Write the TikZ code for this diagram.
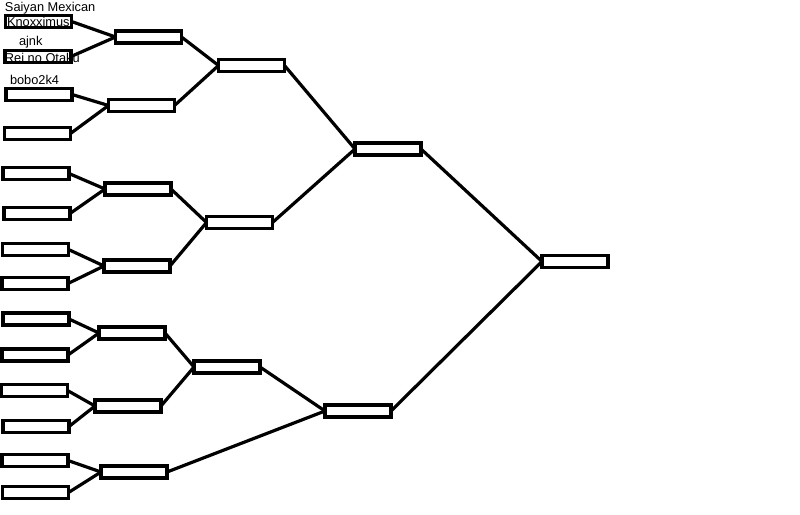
\documentclass[tikz,border=0pt]{standalone}
\usepackage{fontspec}
\setmainfont{Liberation Sans}
\begin{document}
\begin{tikzpicture}[x=1pt,y=-1pt,
  box/.style={draw=black,line width=3.8pt,minimum width=66pt,minimum height=12pt,inner sep=0pt,outer sep=0pt,rectangle},
  link/.style={draw=black,line width=3.2pt},
  lbl/.style={inner sep=0pt,outer sep=0pt,anchor=base west,font=\fontsize{12.8pt}{14pt}\selectfont}]
\fill[white] (0,0) rectangle (800,514);
\useasboundingbox (0,0) rectangle (800,514);
% labels
\node[lbl] (t1) at (5,11) {Saiyan Mexican};
\node[lbl] (t2) at (7,26) {Knoxximus};
\node[lbl] (t3) at (19,45) {ajnk};
\node[lbl] (t4) at (5,62) {Rei no Otaku};
\node[lbl] (t5) at (10,84) {bobo2k4};
% round 1
\node[box] (n1) at (38.5,21.5) {};
\node[box] (n2) at (38,56.5) {};
\node[box] (n3) at (39,94.5) {};
\node[box] (n4) at (37.5,133.5) {};
\node[box] (n5) at (36,173.5) {};
\node[box] (n6) at (37,213.5) {};
\node[box] (n7) at (35.5,249.5) {};
\node[box] (n8) at (35,283.5) {};
\node[box] (n9) at (36,319) {};
\node[box] (n10) at (35,355) {};
\node[box] (n11) at (34.5,390.5) {};
\node[box] (n12) at (36,426.5) {};
\node[box] (n13) at (35,460.5) {};
\node[box] (n14) at (35.5,492.5) {};
% round 2
\node[box] (a) at (148.5,37) {};
\node[box] (b) at (141.5,105.5) {};
\node[box] (c) at (138,189) {};
\node[box] (d) at (137,266) {};
\node[box] (e) at (132,333) {};
\node[box] (f) at (128,406) {};
\node[box] (g) at (134,472) {};
% round 3
\node[box] (h) at (251.5,65.5) {};
\node[box] (i) at (239.5,222.5) {};
\node[box] (j) at (227,367) {};
% round 4
\node[box] (k) at (388,149) {};
\node[box] (l) at (358,411) {};
% final
\node[box] (m) at (575,261.5) {};
% connectors
\draw[link] (n1.east) -- (a.west);
\draw[link] (n2.east) -- (a.west);
\draw[link] (n3.east) -- (b.west);
\draw[link] (n4.east) -- (b.west);
\draw[link] (n5.east) -- (c.west);
\draw[link] (n6.east) -- (c.west);
\draw[link] (n7.east) -- (d.west);
\draw[link] (n8.east) -- (d.west);
\draw[link] (n9.east) -- (e.west);
\draw[link] (n10.east) -- (e.west);
\draw[link] (n11.east) -- (f.west);
\draw[link] (n12.east) -- (f.west);
\draw[link] (n13.east) -- (g.west);
\draw[link] (n14.east) -- (g.west);
\draw[link] (a.east) -- (h.west);
\draw[link] (b.east) -- (h.west);
\draw[link] (c.east) -- (i.west);
\draw[link] (d.east) -- (i.west);
\draw[link] (e.east) -- (j.west);
\draw[link] (f.east) -- (j.west);
\draw[link] (h.east) -- (k.west);
\draw[link] (i.east) -- (k.west);
\draw[link] (j.east) -- (l.west);
\draw[link] (g.east) -- (l.west);
\draw[link] (k.east) -- (m.west);
\draw[link] (l.east) -- (m.west);
\end{tikzpicture}
\end{document}
